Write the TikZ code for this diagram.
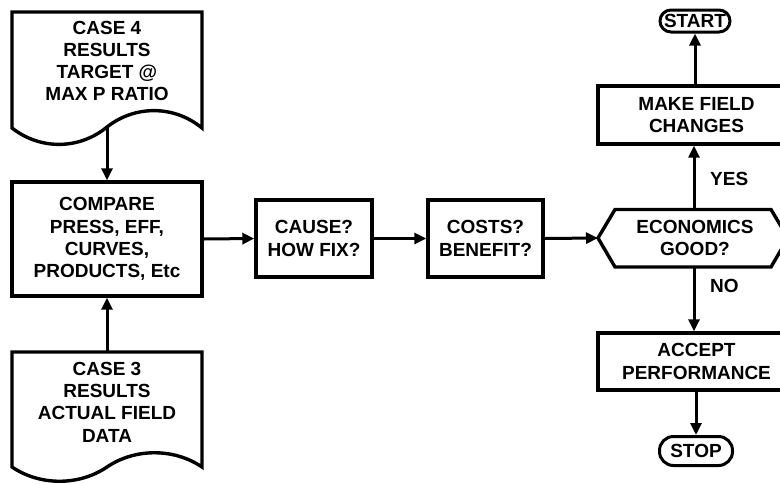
\documentclass[tikz,border=0pt]{standalone}
\usepackage{fontspec}
\setmainfont{Liberation Sans}
\usetikzlibrary{arrows.meta}
\begin{document}
\begin{tikzpicture}[x=1pt,y=-1pt,
  lbl/.style={font=\bfseries\fontsize{19}{22.3}\selectfont, align=center, inner sep=0pt},
  boxn/.style={lbl, draw, line width=3.4pt},
  outl/.style={line width=3.4pt, line join=miter},
  conn/.style={line width=3pt, -{Triangle[length=12pt,width=11pt]}},
  term/.style={lbl, draw, line width=3pt}]
\fill[white] (0,0) rectangle (780,483);
\clip (0,0) rectangle (780,483);
% documents
\draw[outl] (12,12) -- (202,12) -- (202,128)
  .. controls (174,105) and (135,105) .. (107,127)
  .. controls (79,150) and (40,150) .. (12,128) -- cycle;
\node[lbl] (d4) at (107,61) {CASE 4\\RESULTS\\TARGET @\\MAX P RATIO};
\coordinate (d4b) at (107,127);
\draw[outl] (12,352) -- (202,352) -- (202,467)
  .. controls (174,448) and (135,448) .. (107,467)
  .. controls (79,486) and (40,486) .. (12,467) -- cycle;
\node[lbl] (d3) at (107,402) {CASE 3\\RESULTS\\ACTUAL FIELD\\DATA};
\coordinate (d3t) at (107,352);
% boxes
\node[boxn, minimum width=190pt, minimum height=114pt] (cmp) at (107,239) {COMPARE\\PRESS, EFF,\\CURVES,\\PRODUCTS, Etc};
\node[boxn, minimum width=116pt, minimum height=77pt] (cause) at (314,238.5) {CAUSE?\\HOW FIX?};
\node[boxn, minimum width=115pt, minimum height=77pt] (costs) at (485.5,238.5) {COSTS?\\BENEFIT?};
% hexagon
\draw[outl] (598,238) -- (615,209.5) -- (771,209.5) -- (788,238) -- (771,267) -- (615,267) -- cycle;
\node[lbl] (hex) at (695,238) {ECONOMICS\\GOOD?};
\coordinate (hexL) at (598,238);
\coordinate (hexT) at (694,209.5);
\coordinate (hexB) at (694,267);
\node[boxn, minimum width=197pt, minimum height=58pt] (make) at (696.5,115) {MAKE FIELD\\CHANGES};
\node[boxn, minimum width=197pt, minimum height=57pt] (acc) at (696.5,361.5) {ACCEPT\\PERFORMANCE};
\node[term, minimum width=70pt, minimum height=22pt, rounded corners=11pt] (start) at (695,21) {START};
\node[term, minimum width=73pt, minimum height=29pt, rounded corners=14pt] (stop) at (696,451) {STOP};
% labels
\node[lbl, anchor=west] (yes) at (710,179) {YES};
\node[lbl, anchor=west] (no) at (710,286) {NO};
% connectors
\draw[conn] (d4b) -- (cmp.north);
\draw[conn] (d3t) -- (cmp.south);
\draw[conn] (cmp.east) -- (cause.west);
\draw[conn] (cause.east) -- (costs.west);
\draw[conn] (costs.east) -- (hexL);
\draw[conn] (hexT) -- (hexT |- make.south);
\draw[conn] (make.north -| start.south) -- (start.south);
\draw[conn] (hexB) -- (hexB |- acc.north);
\draw[conn] (acc.south -| stop.north) -- (stop.north);
\end{tikzpicture}
\end{document}
